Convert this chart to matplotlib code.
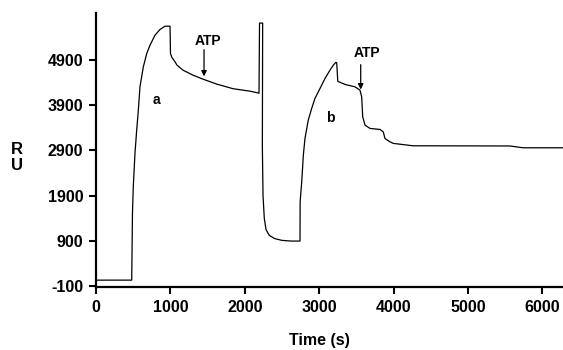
import matplotlib
matplotlib.use("Agg")
import matplotlib.pyplot as plt

plt.rcParams['font.family'] = ['Liberation Sans', 'DejaVu Sans']
plt.rcParams['font.weight'] = 'bold'
plt.rcParams['axes.unicode_minus'] = False

# sensorgram (time in s, response in RU)
time = [0, 480, 490, 501, 524, 547, 569, 591, 636, 682, 726, 793, 860, 927, 995,
        1001, 1020, 1062, 1089, 1169, 1304, 1438, 1626, 1841, 2070, 2191,
        2198, 2240, 2236, 2245, 2262, 2285, 2330, 2400, 2500, 2620, 2742,
        2744, 2765, 2787, 2809, 2853, 2899, 2943, 3011, 3078, 3145, 3190, 3222, 3235,
        3250, 3347, 3481, 3548, 3571, 3585, 3616, 3683, 3817, 3861,
        3884, 3951, 3996, 4260, 5564, 5739, 6277]
ru = [30, 30, 1500, 2097, 2842, 3351, 3793, 4309, 4751, 5047, 5231, 5452, 5578, 5651, 5651,
      5047, 4960, 4862, 4789, 4678, 4567, 4479, 4368, 4268, 4213, 4169,
      5720, 5720, 3000, 1900, 1400, 1150, 1020, 950, 910, 895, 895,
      1765, 2207, 2798, 3167, 3572, 3831, 4052, 4273, 4494, 4678, 4789, 4848, 4845,
      4430, 4362, 4309, 4236, 4087, 3645, 3461, 3388, 3366, 3313,
      3167, 3092, 3057, 3004, 3000, 2960, 2960]

yticks = [-100, 900, 1900, 2900, 3900, 4900]
xticks = [0, 1000, 2000, 3000, 4000, 5000, 6000]

# ATP injections: arrow x, arrow top, arrow tip, label position
atp_x = [1452, 3558]
atp_top = [5131, 4800]
atp_tip = [4540, 4250]
atp_text_x = [1500, 3640]
atp_text_y = [5330, 5050]

fig = plt.figure(figsize=(5.63, 3.5), dpi=100)
ax = fig.add_axes([96 / 563, 63 / 350, 1 - 96 / 563, (287 - 12.7) / 350])

ax.plot(time, ru, color='black', lw=0.9)

for i in range(len(atp_x)):
    ax.annotate('', xy=(atp_x[i], atp_tip[i]), xytext=(atp_x[i], atp_top[i]),
                arrowprops=dict(arrowstyle='-|>', color='black', lw=0.9,
                                mutation_scale=8, shrinkA=0, shrinkB=0))
    ax.text(atp_text_x[i], atp_text_y[i], 'ATP', ha='center', va='center',
            fontsize=10, fontweight='bold')

ax.text(806, 4010, 'a', ha='center', va='center', fontsize=10, fontweight='bold')
ax.text(3145, 3614, 'b', ha='center', va='center', fontsize=10, fontweight='bold')

ax.set_xlim(0, 6277)
ax.set_ylim(-122, 5950)
ax.set_xticks(xticks)
ax.set_yticks(yticks)
ax.tick_params(direction='out', length=5, width=1.5, labelsize=11.5, pad=4)
for lab in ax.get_xticklabels() + ax.get_yticklabels():
    lab.set_fontweight('bold')

for s in ['top', 'right']:
    ax.spines[s].set_visible(False)
for s in ['left', 'bottom']:
    ax.spines[s].set_linewidth(1.6)

fig.text(17 / 563, 1 - 150 / 350, 'R', ha='center', va='center', fontsize=12, fontweight='bold')
fig.text(17 / 563, 1 - 166 / 350, 'U', ha='center', va='center', fontsize=12, fontweight='bold')
fig.text(319 / 563, 1 - 340 / 350, 'Time (s)', ha='center', va='center', fontsize=11.5, fontweight='bold')

fig.savefig('out.png', dpi=100)
